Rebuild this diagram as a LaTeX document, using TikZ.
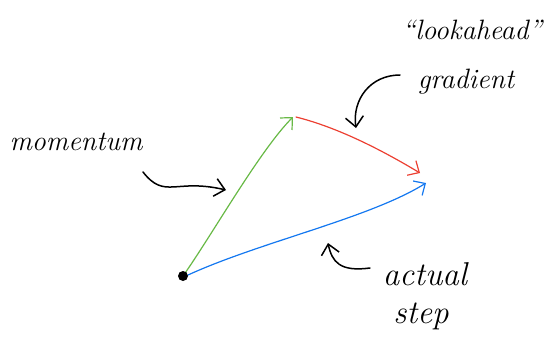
\documentclass[tikz,border=0pt]{standalone}
\usetikzlibrary{arrows.meta}
\begin{document}
\begin{tikzpicture}[x=1pt,y=-1pt,
  hand/.style={line width=1.2pt,line cap=round,line join=round},
  vec/.style={hand,-{Straight Barb[length=9pt,width=17pt,line width=1.2pt]}},
  pointer/.style={line width=1.5pt,line cap=round,line join=round,-{Straight Barb[length=10pt,width=18pt,line width=1.5pt]}},
  lbl/.style={font=\fontsize{28}{30}\selectfont\itshape,inner sep=0pt,align=center},
  biglbl/.style={lbl,font=\fontsize{33}{35}\selectfont\itshape}]
\useasboundingbox (0,0) rectangle (552,341);
\definecolor{mgreen}{RGB}{104,185,70}
\definecolor{mred}{RGB}{236,64,50}
\definecolor{mblue}{RGB}{20,120,240}
\coordinate (O) at (183,276);
\coordinate (A) at (293,117);
\coordinate (B) at (420,173);
\coordinate (C) at (426,183);
% vectors
\draw[vec,mgreen] (O) .. controls (212,235) and (260,150) .. (A);
\draw[vec,mred] (296,117) .. controls (340,128) and (385,152) .. (B);
\draw[vec,mblue] (188,275) .. controls (260,242) and (370,218) .. (C);
\fill[black] (O) circle (5);
% labels
\node[lbl] (mom) at (76,142) {momentum};
\node[lbl] (look) at (472,30) {``lookahead''};
\node[lbl] (grad) at (466,82) {gradient};
\node[biglbl] (act) at (425,274) {actual};
\node[biglbl] (stp) at (421,316) {step};
% pointers
\coordinate (m1) at (143,172);
\coordinate (m2) at (226,190);
\draw[pointer] (m1) .. controls (165,200) and (175,178) .. (m2);
\coordinate (g1) at (400,75);
\coordinate (g2) at (356,128);
\draw[pointer] (g1) .. controls (370,75) and (352,100) .. (g2);
\coordinate (a1) at (370,268);
\coordinate (a2) at (328,243);
\draw[pointer] (a1) .. controls (340,272) and (332,262) .. (a2);
\end{tikzpicture}
\end{document}
